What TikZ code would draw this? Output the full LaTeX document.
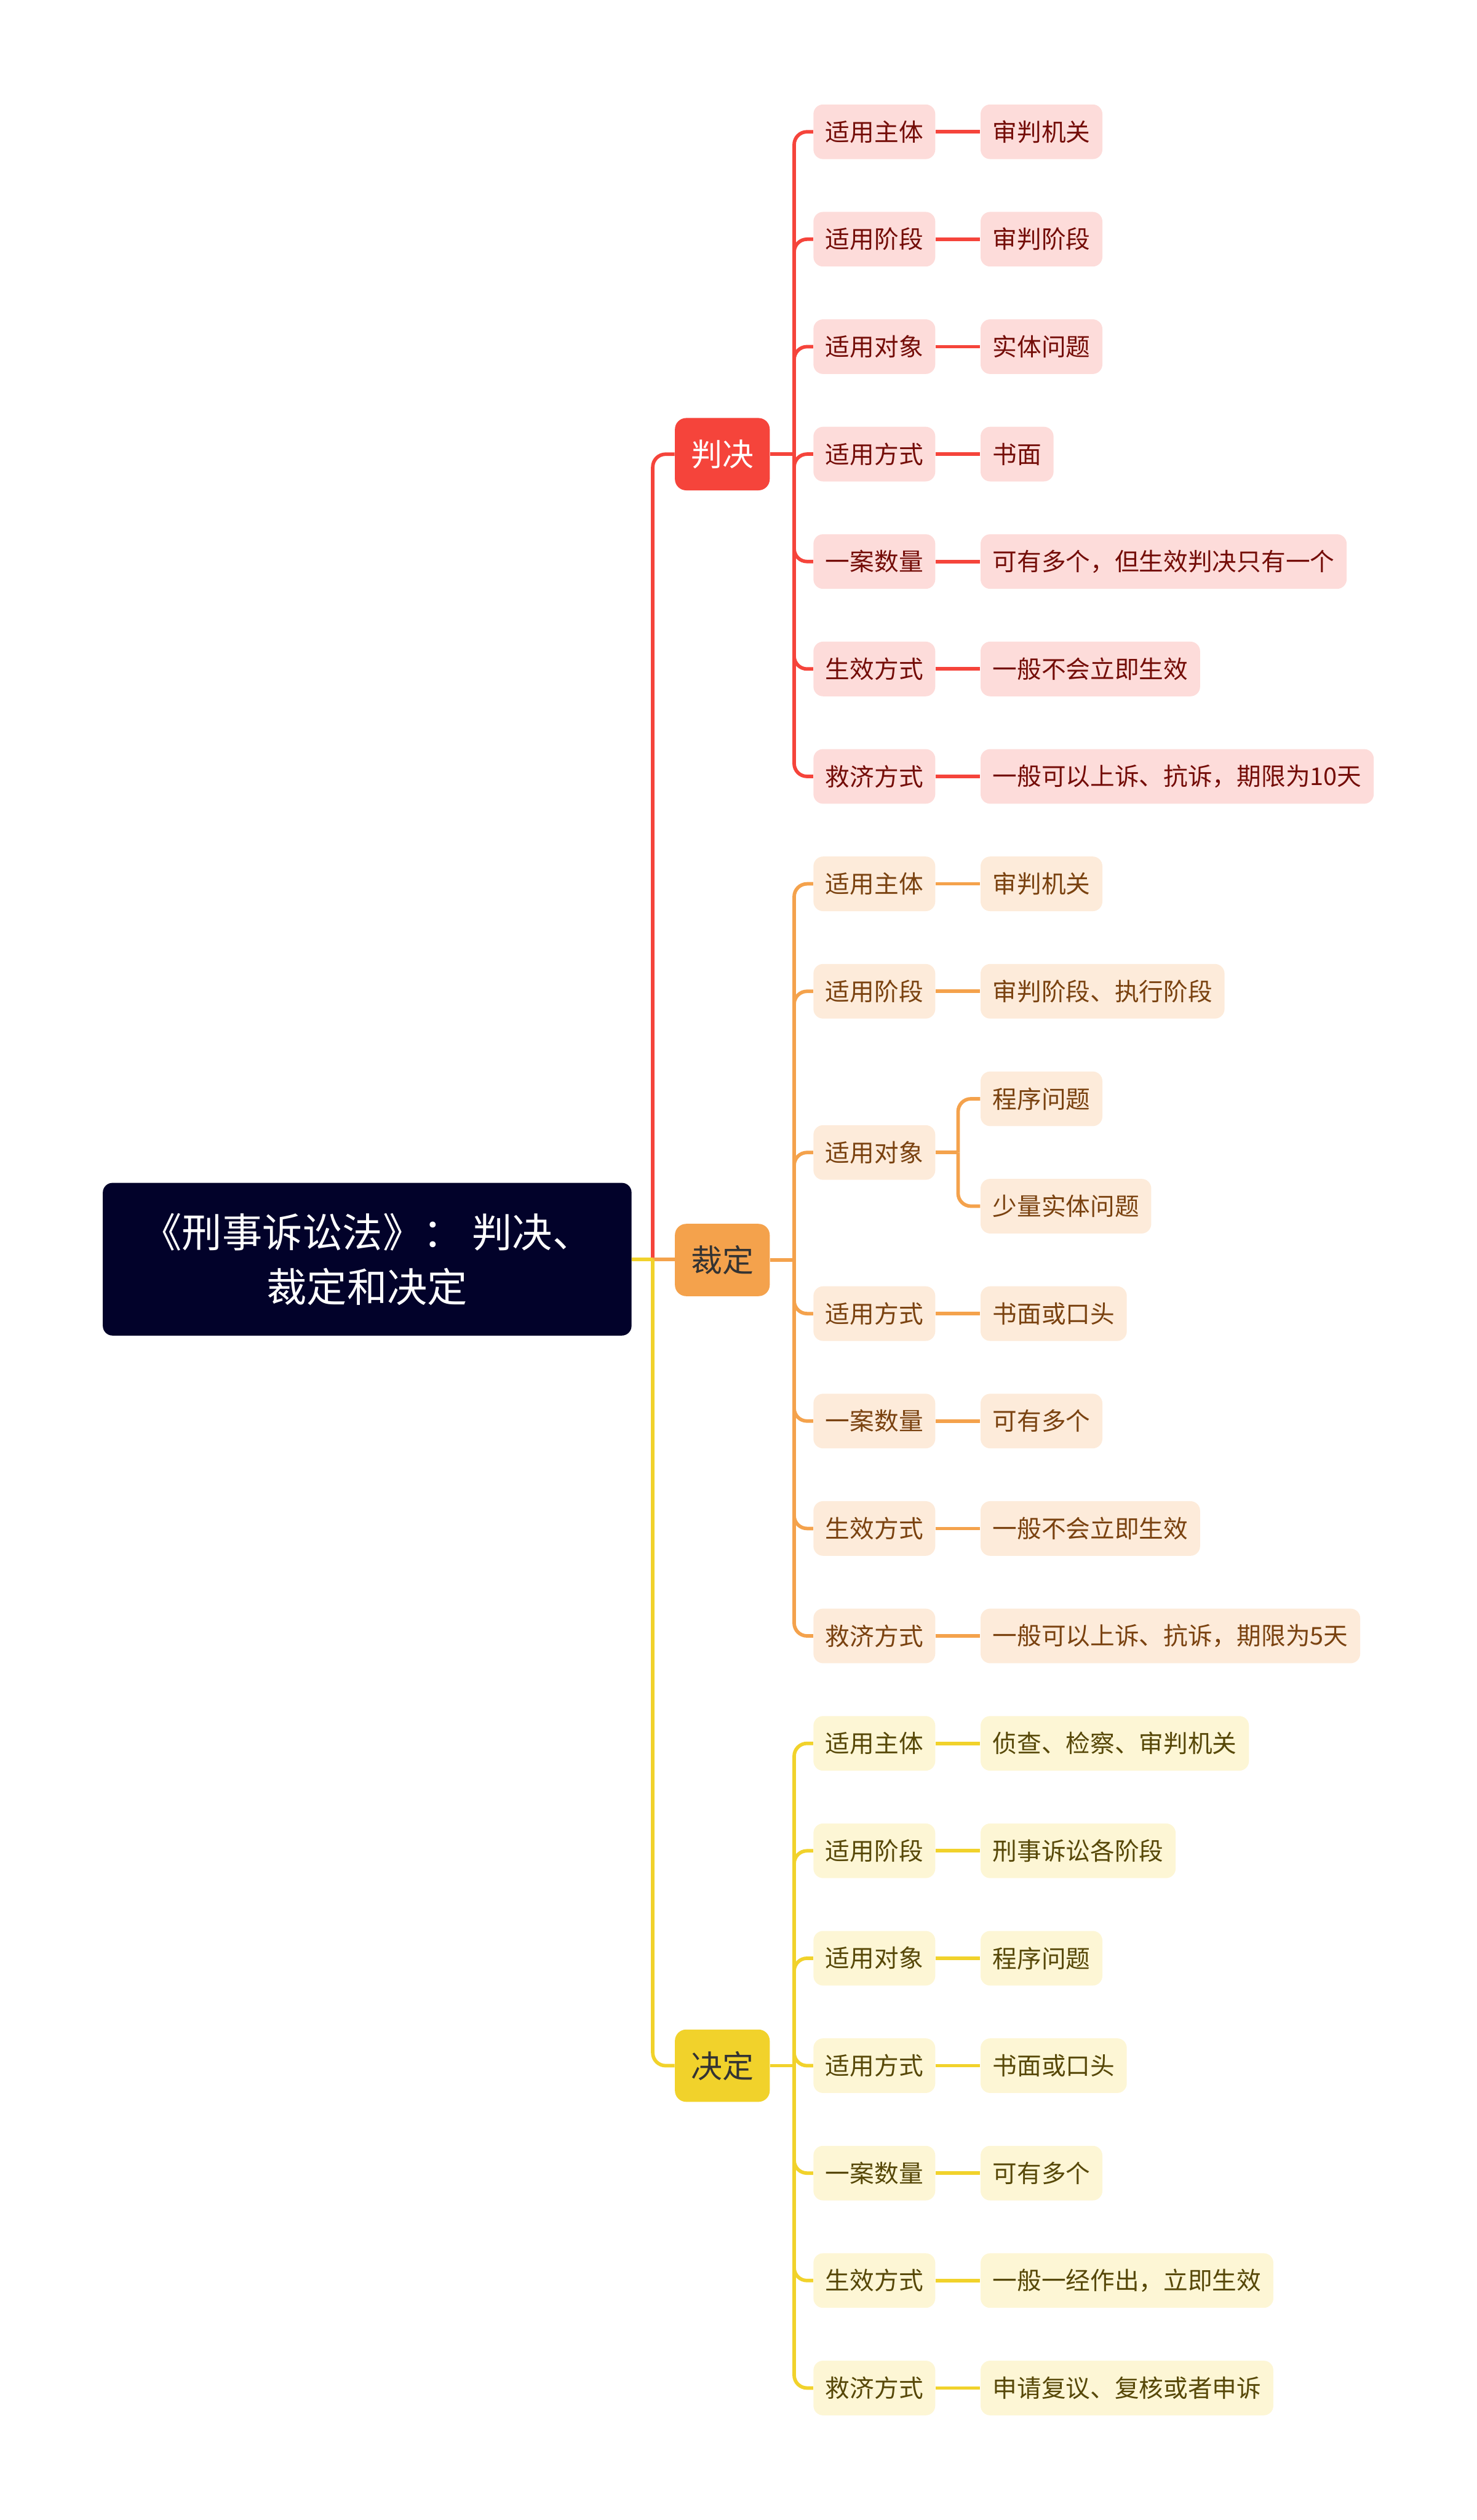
\documentclass[tikz,border=0pt]{standalone}
\usepackage{fontspec}
\setmainfont{Noto Sans CJK SC}
\usepackage{tikz}
\usetikzlibrary{positioning, calc}
\definecolor{rootblue}{HTML}{02022A}
\definecolor{pjred}{HTML}{F5443B}
\definecolor{pjfill}{HTML}{FDDCDA}
\definecolor{pjtext}{HTML}{740D08}
\definecolor{cdorange}{HTML}{F4A24C}
\definecolor{cdfill}{HTML}{FDEBDA}
\definecolor{cdtext}{HTML}{7A4210}
\definecolor{jdyellow}{HTML}{F1D22B}
\definecolor{jdfill}{HTML}{FDF6D5}
\definecolor{jdtext}{HTML}{574808}
\tikzset{
  topic/.style={rounded corners=7pt, minimum height=45pt, inner xsep=10pt, font=\fontsize{19.5}{20}\selectfont},
  item/.style={rounded corners=6pt, minimum height=34pt, inner xsep=7.5pt, inner ysep=0pt, anchor=west, font=\fontsize{15.2}{16}\selectfont},
  link/.style={line width=2.2pt},
}

\begin{document}
\begin{tikzpicture}[x=1pt, y=-1pt]
  \useasboundingbox (0,0) rectangle (919,1568);

  % root and the three topics
  \node[fill=rootblue, text=white, rounded corners=6pt, minimum width=329pt, minimum height=95pt, align=center, font=\fontsize{25}{34}\selectfont] (root) at (228.5,783.5) {《刑事诉讼法》： 判决、\\裁定和决定};
  \node[topic, fill=pjred, text=white] (pj) at (449.5,282.6) {判决};
  \node[topic, fill=cdorange, text=black!80] (cd) at (449.5,784) {裁定};
  \node[topic, fill=jdyellow, text=black!80] (jd) at (449.5,1285.3) {决定};

  \coordinate (rootj) at ($(root.east)+(13,0)$);
  \draw[link, pjred] (root.east) -- (rootj);
  \draw[link, pjred, rounded corners=8pt] (rootj) |- (pj.west);
  \draw[link, cdorange] (rootj) -- (rootj -| cd.west);
  \draw[link, jdyellow] (root.east) -- (rootj);
  \draw[link, jdyellow, rounded corners=8pt] (rootj) |- (jd.west);

  % 判决
  \coordinate (pjj) at ($(pj.east)+(15,0)$);
  \draw[link, pjred] (pj.east) -- (pjj);
  \foreach \lab/\leaf [count=\i from 0] in {适用主体/审判机关, 适用阶段/审判阶段, 适用对象/实体问题, 适用方式/书面, 一案数量/可有多个，但生效判决只有一个, 生效方式/一般不会立即生效, 救济方式/一般可以上诉、抗诉，期限为10天} {
    \node[item, fill=pjfill, text=pjtext] (pj-\i) at (506, 82+66.85*\i) {\lab};
    \node[item, fill=pjfill, text=pjtext] (pjl-\i) at (610, 82+66.85*\i) {\leaf};
    \draw[link, pjred, rounded corners=8pt] (pjj) |- (pj-\i.west);
    \draw[link, pjred] (pj-\i.east) -- (pjl-\i.west);
  }

  % 裁定
  \coordinate (cdj) at ($(cd.east)+(15,0)$);
  \draw[link, cdorange] (cd.east) -- (cdj);
  \foreach \lab/\leaf/\r in {适用主体/审判机关/7, 适用阶段/审判阶段、执行阶段/8, 适用方式/书面或口头/11, 一案数量/可有多个/12, 生效方式/一般不会立即生效/13, 救济方式/一般可以上诉、抗诉，期限为5天/14} {
    \node[item, fill=cdfill, text=cdtext] (cd-\r) at (506, 82+66.85*\r) {\lab};
    \node[item, fill=cdfill, text=cdtext] (cdl-\r) at (610, 82+66.85*\r) {\leaf};
    \draw[link, cdorange, rounded corners=8pt] (cdj) |- (cd-\r.west);
    \draw[link, cdorange] (cd-\r.east) -- (cdl-\r.west);
  }
  \node[item, fill=cdfill, text=cdtext] (cd-obj) at (506, 717.1) {适用对象};
  \node[item, fill=cdfill, text=cdtext] (cdl-proc) at (610, 683.7) {程序问题};
  \node[item, fill=cdfill, text=cdtext] (cdl-ent) at (610, 750.5) {少量实体问题};
  \draw[link, cdorange, rounded corners=8pt] (cdj) |- (cd-obj.west);
  \coordinate (objj) at ($(cd-obj.east)+(14,0)$);
  \draw[link, cdorange] (cd-obj.east) -- (objj);
  \draw[link, cdorange, rounded corners=8pt] (objj) |- (cdl-proc.west);
  \draw[link, cdorange, rounded corners=8pt] (objj) |- (cdl-ent.west);

  % 决定
  \coordinate (jdj) at ($(jd.east)+(15,0)$);
  \draw[link, jdyellow] (jd.east) -- (jdj);
  \foreach \lab/\leaf [count=\i from 15] in {适用主体/侦查、检察、审判机关, 适用阶段/刑事诉讼各阶段, 适用对象/程序问题, 适用方式/书面或口头, 一案数量/可有多个, 生效方式/一般一经作出，立即生效, 救济方式/申请复议、复核或者申诉} {
    \node[item, fill=jdfill, text=jdtext] (jd-\i) at (506, 82+66.85*\i) {\lab};
    \node[item, fill=jdfill, text=jdtext] (jdl-\i) at (610, 82+66.85*\i) {\leaf};
    \draw[link, jdyellow, rounded corners=8pt] (jdj) |- (jd-\i.west);
    \draw[link, jdyellow] (jd-\i.east) -- (jdl-\i.west);
  }
\end{tikzpicture}
\end{document}
